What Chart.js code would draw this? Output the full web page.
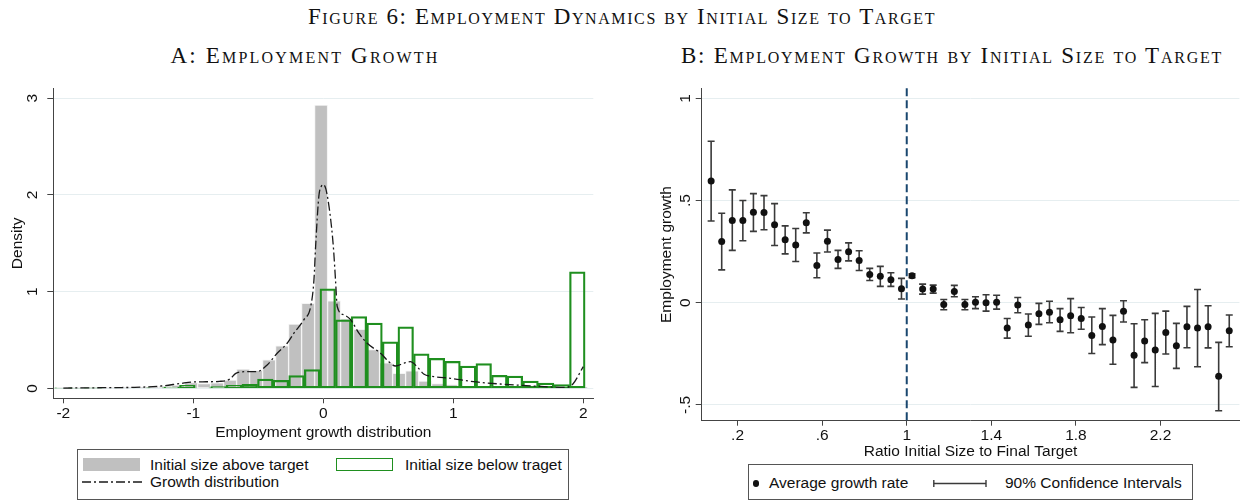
<!DOCTYPE html>
<html><head><meta charset="utf-8">
<script src="https://cdn.jsdelivr.net/npm/chart.js@4.4.1/dist/chart.umd.min.js"></script>
<style>
html,body{margin:0;padding:0;background:#fff;}
#page{position:relative;width:1245px;height:501px;overflow:hidden;font-family:'Liberation Sans',Arial,sans-serif;color:#111;}
.ttl{position:absolute;font-family:'Liberation Serif','Times New Roman',serif;font-variant:small-caps;white-space:nowrap;transform:translateX(-50%);color:#111;line-height:24px;font-size:23px;}
.abs{position:absolute;}
.lgtxt{position:absolute;font-size:15.5px;line-height:18px;white-space:nowrap;color:#111;}
.lgbox{position:absolute;border:1px solid #555;box-sizing:border-box;}
canvas{position:absolute;}
</style></head><body>
<div id="page">
  <div class="ttl" style="left:622px;top:5px;letter-spacing:1.6px">Figure 6: Employment Dynamics by Initial Size to Target</div>
  <div class="ttl" style="left:305px;top:44px;letter-spacing:2.2px">A: Employment Growth</div>
  <div class="ttl" style="left:952px;top:44px;letter-spacing:1.75px">B: Employment Growth by Initial Size to Target</div>

  <canvas id="cA" width="620" height="389" style="left:0;top:60px;width:620px;height:389px"></canvas>
  <canvas id="cB" width="620" height="404" style="left:625px;top:60px;width:620px;height:404px"></canvas>

  <!-- legend A -->
  <div class="lgbox" style="left:77px;top:449px;width:492px;height:51px"></div>
  <div class="abs" style="left:83px;top:458px;width:57px;height:13px;background:#c0c0c0"></div>
  <div class="lgtxt" style="left:150px;top:456px">Initial size above target</div>
  <div class="abs" style="left:336px;top:458px;width:57px;height:13px;border:1.5px solid #1f8f1f;box-sizing:border-box"></div>
  <div class="lgtxt" style="left:405px;top:456px">Initial size below traget</div>
  <svg class="abs" style="left:82px;top:478px" width="60" height="8"><line x1="0" y1="4" x2="60" y2="4" stroke="#1a1a1a" stroke-width="1.3" stroke-dasharray="9 3 2 3"/></svg>
  <div class="lgtxt" style="left:150px;top:473px">Growth distribution</div>

  <!-- legend B -->
  <div class="lgbox" style="left:748px;top:464px;width:445px;height:36px"></div>
  <div class="abs" style="left:752.5px;top:480px;width:6.5px;height:6.5px;border-radius:50%;background:#111"></div>
  <div class="lgtxt" style="left:769px;top:474px">Average growth rate</div>
  <svg class="abs" style="left:933px;top:479px" width="54" height="9"><line x1="0.8" y1="4.5" x2="53" y2="4.5" stroke="#3a3a3a" stroke-width="1.4"/><line x1="0.8" y1="1" x2="0.8" y2="8" stroke="#3a3a3a" stroke-width="1.4"/><line x1="53" y1="1" x2="53" y2="8" stroke="#3a3a3a" stroke-width="1.4"/></svg>
  <div class="lgtxt" style="left:1005px;top:474px">90% Confidence Intervals</div>
</div>
<script>
// ---------- Panel A data ----------
const grayCenters = [-2.017,-1.917,-1.817,-1.717,-1.617,-1.517,-1.417,-1.317,-1.217,-1.117,-1.017,-0.917,-0.817,-0.717,-0.617,-0.517,-0.417,-0.317,-0.217,-0.117,-0.017,0.083,0.183,0.283,0.383,0.483,0.583,0.683,0.783,0.883,0.983,1.083,1.183,1.283,1.383,1.483,1.583,1.683,1.783,1.883,1.983];
const grayDensity = [0.004,0.004,0.005,0.004,0.006,0.007,0.012,0.016,0.022,0.033,0.06,0.05,0.058,0.085,0.2,0.185,0.295,0.44,0.665,0.88,2.93,0.905,0.72,0.61,0.40,0.265,0.155,0.18,0.075,0.05,0.04,0.024,0.02,0.012,0.01,0.008,0.006,0.005,0.004,0.004,0.01];
const greenCenters = [-2.006,-1.886,-1.766,-1.646,-1.526,-1.406,-1.286,-1.166,-1.046,-0.926,-0.806,-0.686,-0.566,-0.446,-0.326,-0.206,-0.086,0.034,0.154,0.274,0.394,0.514,0.634,0.754,0.874,0.994,1.114,1.234,1.354,1.474,1.594,1.714,1.834,1.954];
const greenDensity = [0.003,0.003,0.002,0.005,0,0.004,0.005,0.014,0.031,0.004,0.017,0.031,0.041,0.097,0.083,0.131,0.193,1.03,0.708,0.743,0.674,0.48,0.636,0.356,0.311,0.28,0.231,0.256,0.135,0.128,0.076,0.055,0.038,1.206];
const kdeX = [-2.0,-1.8,-1.6,-1.45,-1.25,-1.1,-1.0,-0.9,-0.8,-0.72,-0.673,-0.6,-0.509,-0.432,-0.355,-0.278,-0.226,-0.149,-0.097,-0.072,-0.059,-0.034,-0.015,0.0,0.02,0.051,0.077,0.094,0.107,0.158,0.21,0.274,0.338,0.44,0.504,0.555,0.619,0.67,0.721,0.772,0.849,0.977,1.156,1.36,1.617,1.87,1.92,2.0];
const kdeY = [0.003,0.005,0.008,0.01,0.024,0.05,0.066,0.068,0.072,0.095,0.155,0.172,0.173,0.242,0.363,0.466,0.57,0.71,0.846,1.12,1.47,1.99,2.09,2.107,2.06,1.81,1.47,1.12,0.846,0.76,0.71,0.57,0.466,0.363,0.276,0.231,0.259,0.276,0.225,0.149,0.121,0.104,0.069,0.045,0.024,0.01,0.045,0.225];
const xTicksA = [-2,-1,0,1,2];
const yTicksA = [0,1,2,3];

// ---------- Panel B data ----------
const ratioX = [0.075,0.125,0.175,0.225,0.275,0.325,0.375,0.425,0.475,0.525,0.575,0.625,0.675,0.725,0.775,0.825,0.875,0.925,0.975,1.025,1.075,1.125,1.175,1.225,1.275,1.325,1.375,1.425,1.475,1.525,1.575,1.625,1.675,1.725,1.775,1.825,1.875,1.925,1.975,2.025,2.075,2.125,2.175,2.225,2.275,2.325,2.375,2.425,2.475,2.525];
const growthMean = [0.596,0.30,0.402,0.402,0.443,0.441,0.381,0.308,0.282,0.391,0.182,0.301,0.212,0.249,0.207,0.138,0.129,0.112,0.068,0.132,0.067,0.067,-0.008,0.055,-0.008,0.002,0,0.003,-0.124,-0.011,-0.109,-0.054,-0.046,-0.083,-0.064,-0.077,-0.16,-0.116,-0.182,-0.042,-0.257,-0.187,-0.231,-0.145,-0.21,-0.117,-0.124,-0.117,-0.36,-0.137];
const ciHigh = [0.79,0.438,0.552,0.5,0.534,0.524,0.485,0.376,0.363,0.44,0.243,0.355,0.256,0.293,0.254,0.168,0.178,0.147,0.119,0.142,0.091,0.086,0.016,0.085,0.016,0.029,0.039,0.037,-0.077,0.026,-0.055,-0.003,0.007,-0.029,0.02,-0.023,-0.07,-0.029,-0.062,0.01,-0.103,-0.083,-0.052,-0.041,-0.101,-0.018,0.065,-0.015,-0.194,-0.06];
const ciLow = [0.40,0.161,0.256,0.303,0.349,0.357,0.28,0.239,0.202,0.342,0.122,0.248,0.168,0.205,0.158,0.109,0.08,0.08,0.018,0.122,0.042,0.047,-0.034,0.029,-0.034,-0.029,-0.041,-0.031,-0.173,-0.049,-0.164,-0.106,-0.098,-0.14,-0.147,-0.13,-0.248,-0.205,-0.301,-0.094,-0.414,-0.293,-0.41,-0.251,-0.321,-0.22,-0.313,-0.221,-0.528,-0.215];
const xTicksB = [0.2,0.6,1,1.4,1.8,2.2];
const xLabelsB = ['.2','.6','1','1.4','1.8','2.2'];
const yTicksB = [-0.5,0,0.5,1];
const yLabelsB = ['-.5','0','.5','1'];
const refLineX = 1;

Chart.defaults.font.family = "'Liberation Sans', Arial, sans-serif";
Chart.defaults.font.size = 15.5;
Chart.defaults.color = '#111';

const AXIS = '#444';
const GRID = '#e6eef0';

// ---------- Panel A ----------
new Chart(document.getElementById('cA'), {
  type: 'bar',
  data: { datasets: [
    { type:'line', label:'Growth distribution', xAxisID:'x',
      data: kdeX.map((x,i)=>({x:x, y:kdeY[i]})),
      borderColor:'#1a1a1a', borderWidth:1.3, borderDash:[9,3,2,3],
      pointRadius:0, cubicInterpolationMode:'monotone', fill:false, order:0 },
    { type:'bar', label:'Initial size below traget', xAxisID:'x2',
      data: greenCenters.map((x,i)=>({x:x, y:greenDensity[i]})),
      backgroundColor:'rgba(0,0,0,0)', borderColor:'#1f8f1f', borderWidth:1.6,
      borderSkipped:false, grouped:false, barPercentage:1, categoryPercentage:1, order:1 },
    { type:'bar', label:'Initial size above target', xAxisID:'x',
      data: grayCenters.map((x,i)=>({x:x, y:grayDensity[i]})),
      backgroundColor:'#c0c0c0', borderColor:'#f4f4f4', borderWidth:1,
      borderSkipped:false, grouped:false, barPercentage:1, categoryPercentage:1, order:2 }
  ]},
  options: {
    responsive:false, animation:false, devicePixelRatio:1,
    layout:{padding:{left:0,right:26.7,top:28.3,bottom:0}},
    plugins:{legend:{display:false}, tooltip:{enabled:false}},
    scales:{
      x:{ type:'linear', position:'bottom', min:-2.077, max:2.077, offset:false,
        afterBuildTicks:s=>{ s.ticks = xTicksA.map(v=>({value:v})); },
        afterFit:s=>{ s.height = 50.7; },
        grid:{display:true, drawOnChartArea:false, drawTicks:true, tickLength:5, tickColor:AXIS, offset:false},
        border:{display:true, color:AXIS, width:1},
        ticks:{padding:1, autoSkip:false, maxRotation:0, minRotation:0, callback:v=>String(v)},
        title:{display:true, text:'Employment growth distribution', padding:{top:0,bottom:6.7}} },
      x2:{ type:'linear', display:false, min:-2.077, max:2.077, offset:false, grid:{offset:false} },
      y:{ type:'linear', position:'left', min:-0.103, max:3.103,
        afterBuildTicks:s=>{ s.ticks = yTicksA.map(v=>({value:v})); },
        afterFit:s=>{ s.width = 53.3; },
        grid:{color:GRID, drawTicks:true, tickLength:6, tickColor:AXIS},
        border:{display:true, color:AXIS, width:1},
        ticks:{minRotation:90, maxRotation:90, crossAlign:'center', padding:10.7, autoSkip:false, callback:v=>String(v)},
        title:{display:true, text:'Density', padding:{top:8.7,bottom:0}} }
    }
  }
});

// ---------- Panel B ----------
const refLinePlugin = {
  id:'refLine',
  beforeDatasetsDraw(chart){
    const ctx = chart.ctx, xs = chart.scales.x, area = chart.chartArea;
    const px = xs.getPixelForValue(refLineX);
    ctx.save();
    ctx.strokeStyle = '#1a476f'; ctx.lineWidth = 2; ctx.setLineDash([8,4]);
    ctx.beginPath(); ctx.moveTo(px, area.top); ctx.lineTo(px, area.bottom); ctx.stroke();
    ctx.restore();
  }
};
const errData = [];
ratioX.forEach((x,i)=>{ errData.push({x:x,y:ciLow[i]}); errData.push({x:x,y:ciHigh[i]}); errData.push({x:x,y:null}); });

new Chart(document.getElementById('cB'), {
  type: 'scatter',
  data: { datasets: [
    { type:'scatter', label:'Average growth rate',
      data: ratioX.map((x,i)=>({x:x, y:growthMean[i]})),
      pointRadius:3.5, pointBackgroundColor:'#111', pointBorderWidth:0, pointBorderColor:'#111', order:0 },
    { type:'line', label:'90% Confidence Intervals', data: errData,
      borderColor:'#3a3a3a', borderWidth:1.6, spanGaps:false, tension:0, fill:false,
      pointStyle:'line', pointRadius:3.5, pointBorderColor:'#3a3a3a', pointBorderWidth:1.6, order:1 }
  ]},
  options: {
    responsive:false, animation:false, devicePixelRatio:1,
    layout:{padding:{left:0,right:3.5,top:28.3,bottom:0}},
    plugins:{legend:{display:false}, tooltip:{enabled:false}},
    scales:{
      x:{ type:'linear', position:'bottom', min:0.0304, max:2.573,
        afterBuildTicks:s=>{ s.ticks = xTicksB.map(v=>({value:v})); },
        afterFit:s=>{ s.height = 43.3; },
        grid:{display:true, drawOnChartArea:false, drawTicks:true, tickLength:5, tickColor:AXIS},
        border:{display:true, color:AXIS, width:1},
        ticks:{padding:1, autoSkip:false, maxRotation:0, minRotation:0,
          callback:v=>{ const i = xTicksB.indexOf(v); return i>=0 ? xLabelsB[i] : ''; }},
        title:{display:true, text:'Ratio Initial Size to Final Target', padding:{top:0,bottom:2.7}} },
      y:{ type:'linear', position:'left', min:-0.577, max:1.049,
        afterBuildTicks:s=>{ s.ticks = yTicksB.map(v=>({value:v})); },
        afterFit:s=>{ s.width = 76.7; },
        grid:{color:GRID, drawTicks:true, tickLength:6, tickColor:AXIS},
        border:{display:true, color:AXIS, width:1},
        ticks:{minRotation:90, maxRotation:90, crossAlign:'center', padding:1, autoSkip:false,
          callback:v=>{ const i = yTicksB.indexOf(v); return i>=0 ? yLabelsB[i] : ''; }},
        title:{display:true, text:'Employment growth', padding:{top:32.4,bottom:0}} }
    }
  },
  plugins:[refLinePlugin]
});
</script>
</body></html>
